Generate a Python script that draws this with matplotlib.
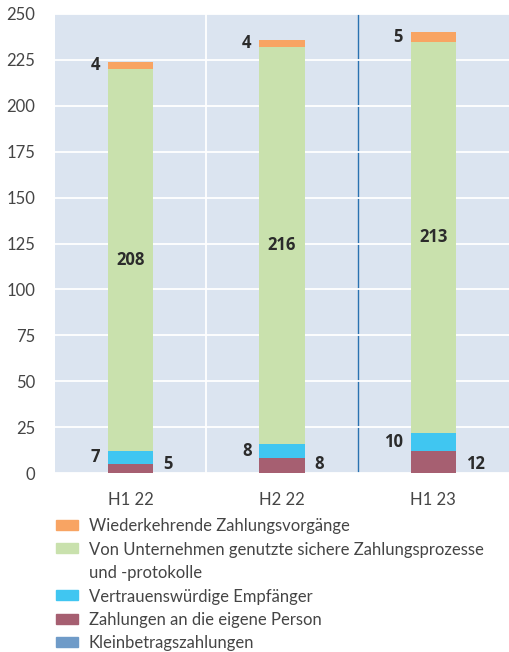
import numpy as np
import matplotlib
matplotlib.use("Agg")
import matplotlib.pyplot as plt
from matplotlib.patches import Rectangle

# data
categories = ["H1 22", "H2 22", "H1 23"]
kleinbetrag = [0, 0, 0]
eigene_person = [5, 8, 12]
vertrauens = [7, 8, 10]
unternehmen = [208, 216, 213]
wiederkehrend = [4, 4, 5]

legend_labels = ["Wiederkehrende Zahlungsvorgänge",
                 "Von Unternehmen genutzte sichere Zahlungsprozesse\nund -protokolle",
                 "Vertrauenswürdige Empfänger",
                 "Zahlungen an die eigene Person",
                 "Kleinbetragszahlungen"]
colors = ["#f8a463", "#c9e1ad", "#40c6f1", "#a65f71", "#6f9bc8"]

tick_font = "Lato"
num_font = "Open Sans"
text_col = "#454545"

fig = plt.figure(figsize=(5.09, 6.52), dpi=100)
ax = fig.add_axes([55/509, 1-473/652, 454/509, (473-14)/652])
ax.set_facecolor("#dbe4f0")

x = np.arange(len(categories))
w = 0.30
series = [kleinbetrag, eigene_person, vertrauens, unternehmen, wiederkehrend]
cols = [colors[4], colors[3], colors[2], colors[1], colors[0]]
bottom = np.zeros(len(categories))
bottoms = []
for vals, c in zip(series, cols):
    vals = np.array(vals, dtype=float)
    ax.bar(x, vals, w, bottom=bottom, color=c, zorder=3, linewidth=0)
    bottoms.append(bottom.copy())
    bottom = bottom + vals

ax.set_ylim(0, 250)
ax.set_xlim(-0.5, 2.5)
ax.set_yticks(np.arange(0, 251, 25))
ax.set_xticks(x)
ax.set_xticklabels(categories)
for s in ax.spines.values():
    s.set_visible(False)
ax.tick_params(length=0, labelsize=12, labelcolor=text_col)
ax.tick_params(axis="y", pad=14)
ax.tick_params(axis="x", pad=14)
for lab in ax.get_xticklabels() + ax.get_yticklabels():
    lab.set_fontfamily(tick_font)
ax.grid(axis="y", color="white", linewidth=1.3, zorder=1)
ax.axvline(0.5, color="white", linewidth=1.3, zorder=1)
ax.axvline(1.5, color="#2a72b0", linewidth=1.0, zorder=1)

lab_kw = dict(fontsize=12, fontweight="bold", color="#2b2b2b", family=num_font, zorder=4)
off = w/2 + 0.05
for i in range(len(categories)):
    # eigene Person: right of bar, at bottom
    ax.text(x[i] + w/2 + 0.065, 0, str(eigene_person[i]), ha="left", va="bottom", **lab_kw)
    # vertrauenswuerdig: left of bar
    ax.text(x[i] - off, bottoms[2][i] + vertrauens[i]/2, str(vertrauens[i]), ha="right", va="center", **lab_kw)
    # unternehmen: centered
    ax.text(x[i], bottoms[3][i] + unternehmen[i]/2, str(unternehmen[i]), ha="center", va="center", **lab_kw)
    # wiederkehrend: left of bar
    ax.text(x[i] - off, bottoms[4][i] + wiederkehrend[i]/2, str(wiederkehrend[i]), ha="right", va="center", **lab_kw)

# legend drawn by hand so the wrapped entry keeps its patch on the first line
y = 525
for lab, c in zip(legend_labels, colors):
    fig.patches.append(Rectangle((56/509, 1-(y+5)/652), 22/509, 10/652,
                                 transform=fig.transFigure, color=c))
    for line in lab.split("\n"):
        fig.text(89/509, 1-y/652, line, fontsize=12, family=tick_font,
                 color=text_col, va="center_baseline")
        y += 23.4

fig.savefig("out.png", dpi=100)
